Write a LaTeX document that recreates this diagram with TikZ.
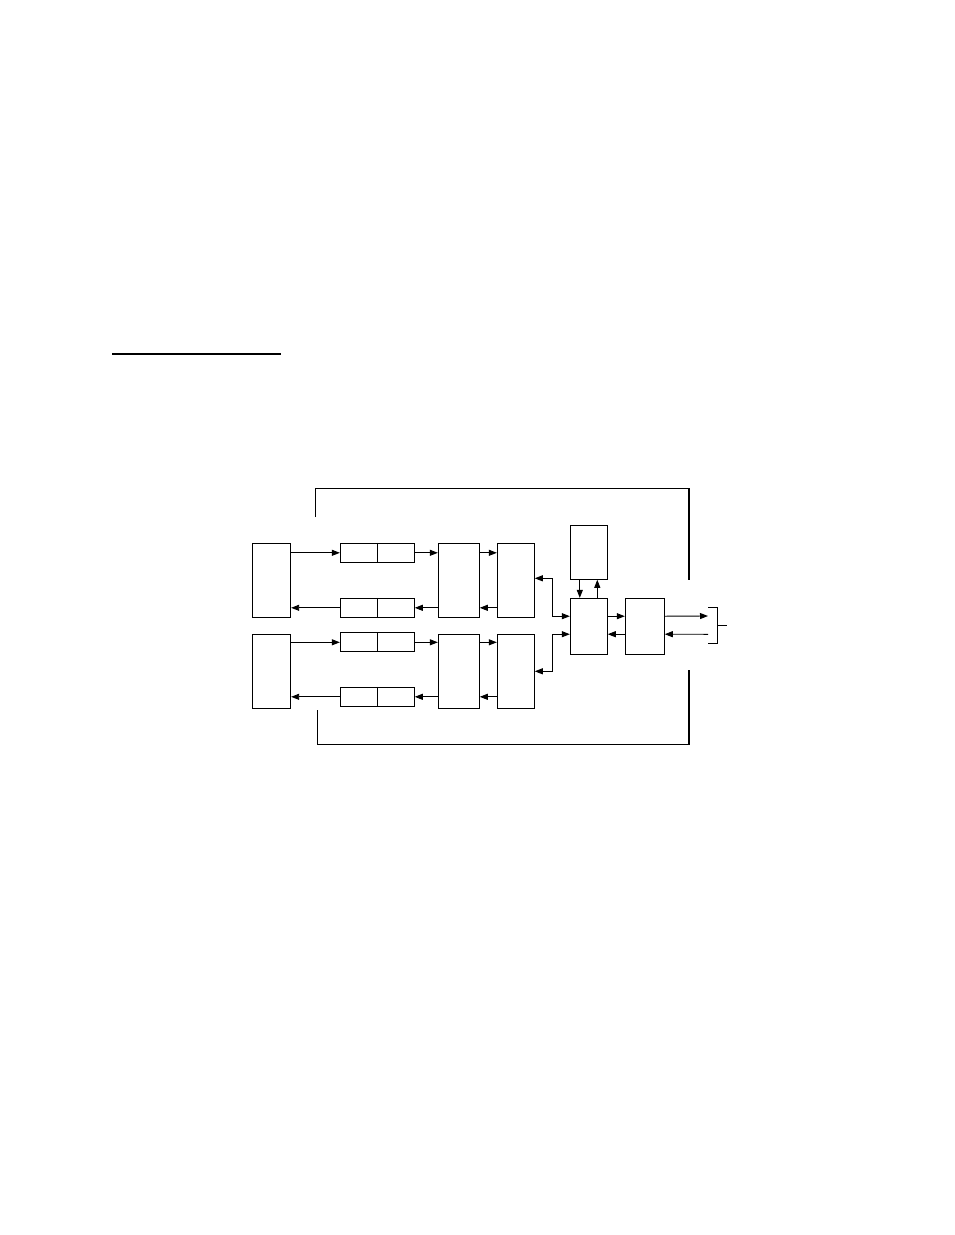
\documentclass[tikz,border=0pt]{standalone}
\usetikzlibrary{arrows.meta}

\begin{document}
\begin{tikzpicture}[x=1pt,y=-1pt,
        line width=0.9pt,
        arr/.style={-{Triangle[length=8pt,width=6pt]}},
        dbl/.style={{Triangle[length=8pt,width=6pt]}-{Triangle[length=8pt,width=6pt]}},
        blk/.style={draw,inner sep=0pt,minimum width=#1},
        blk/.default=37pt]
        \useasboundingbox (0,0) rectangle (954,1235);
        \draw[line width=2pt] (112,354) -- (281,354);        %heading rule

        % left blocks
        \node[blk=38.4pt,minimum height=74pt] (lA) at (271.5,580.3) {};
        \node[blk=38.4pt,minimum height=74pt] (lB) at (271.5,671.3) {};
        % split registers
        \node[blk=74pt,minimum height=19pt] (spA)  at (377.3,552.8) {};
        \node[blk=74pt,minimum height=19pt] (spA2) at (377.3,607.8) {};
        \node[blk=74pt,minimum height=19pt] (spB)  at (377.3,642.3) {};
        \node[blk=74pt,minimum height=19pt] (spB2) at (377.3,696.8) {};
        \foreach \s in {spA,spA2,spB,spB2}
            \draw (\s.north) -- (\s.south);
        % middle blocks
        \node[blk=41pt,minimum height=74pt] (cA) at (458.8,580.3) {};
        \node[blk=41pt,minimum height=74pt] (cB) at (458.8,671.3) {};
        \node[blk,minimum height=74pt] (dA) at (515.8,580.3) {};
        \node[blk,minimum height=74pt] (dB) at (515.8,671.3) {};
        % right blocks
        \node[blk,minimum height=54pt] (eTop) at (588.8,552.3) {};
        \node[blk,minimum height=55.7pt] (fMid) at (588.8,626.2) {};
        \node[blk=39pt,minimum height=55.7pt] (gOut) at (644.8,626.2) {};

        % upper channel
        \draw[arr] (lA.east |- spA.west) -- (spA.west);
        \draw[arr] (spA2.west) -- (lA.east |- spA2.west);
        \draw[arr] (spA.east) -- (cA.west |- spA.east);
        \draw[arr] (cA.west |- spA2.east) -- (spA2.east);
        \draw[arr] (cA.east |- spA.east) -- (dA.west |- spA.east);
        \draw[arr] (dA.west |- spA2.east) -- (cA.east |- spA2.east);
        % lower channel
        \draw[arr] (lB.east |- spB.west) -- (spB.west);
        \draw[arr] (spB2.west) -- (lB.east |- spB2.west);
        \draw[arr] (spB.east) -- (cB.west |- spB.east);
        \draw[arr] (cB.west |- spB2.east) -- (spB2.east);
        \draw[arr] (cB.east |- spB.east) -- (dB.west |- spB.east);
        \draw[arr] (dB.west |- spB2.east) -- (cB.east |- spB2.east);

        % into the hub
        \draw[dbl] ([yshift=2pt]dA.east) -- ++(18,0) |- ([yshift=10pt]fMid.west);
        \draw[dbl] (dB.east) -- ++(18,0) |- ([yshift=-8pt]fMid.west);
        \draw[arr] ([xshift=-9pt]eTop.south) -- ([xshift=-9pt]fMid.north);
        \draw[arr] ([xshift=8.5pt]fMid.north) -- ([xshift=8.5pt]eTop.south);
        \draw[arr] ([yshift=10pt]fMid.east) -- ([yshift=10pt]gOut.west);
        \draw[arr] ([yshift=-8pt]gOut.west) -- ([yshift=-8pt]fMid.east);

        % output port
        \coordinate (pOut) at (708,616);
        \coordinate (pIn)  at (708,634.3);
        \draw[arr] ([yshift=10pt]gOut.east) -- (pOut);
        \draw[arr] (pIn) -- ([yshift=-8pt]gOut.east);
        \draw (708,607.3) -- (717.3,607.3) -- (717.3,643.3) -- (708,643.3);
        \draw (717.3,625.3) -- (726.7,625.3);

        % enclosure
        \draw (315.7,517) -- (315.7,488) -- (689,488);
        \draw[line width=1.6pt] (689,488) -- (689,580);
        \draw (317.7,710) -- (317.7,744) -- (689,744);
        \draw[line width=1.6pt] (689,670) -- (689,744.5);
    \end{tikzpicture}
\end{document}
